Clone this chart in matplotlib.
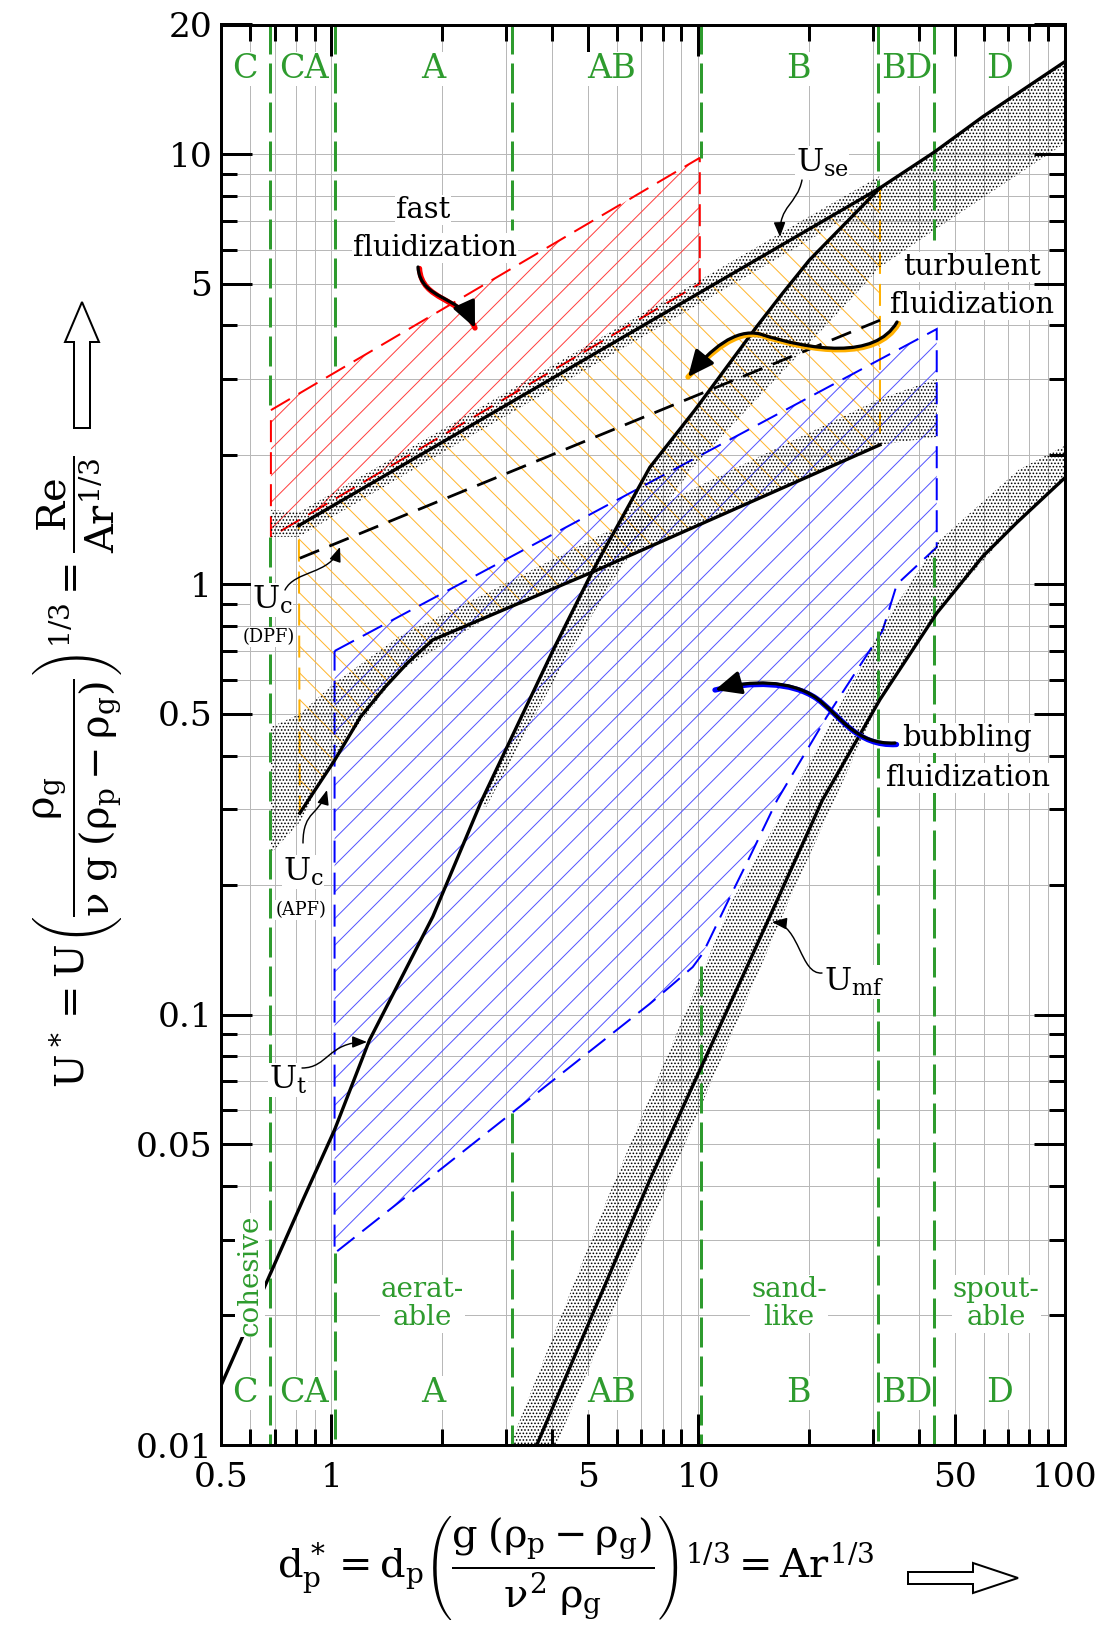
import numpy as np
import matplotlib
matplotlib.use("Agg")
import matplotlib.pyplot as plt
from matplotlib.patches import Polygon, FancyArrowPatch
from matplotlib.path import Path
from matplotlib.ticker import NullFormatter

plt.rcParams['font.family'] = ['DejaVu Serif']
plt.rcParams['mathtext.fontset'] = 'custom'
plt.rcParams['mathtext.rm'] = 'DejaVu Serif'
plt.rcParams['mathtext.it'] = 'DejaVu Serif'
plt.rcParams['mathtext.bf'] = 'DejaVu Serif:bold'
plt.rcParams['hatch.linewidth'] = 0.9

W, H, DPI = 1113, 1636, 80
GREEN = '#2e9b2e'

# regime boundaries on d*
zone_edges = [0.68, 1.02, 3.1, 10.2, 31.0, 44.0]
# part of each boundary line that is not drawn (y top, y bottom)
zone_edge_gaps = [(2.54, 1.29), (3.15, 0.028), (6.65, 0.059),
                  (9.8, 0.13), (8.3, 0.78), (6.3, 1.16)]
zone_names = ['C', 'CA', 'A', 'AB', 'B', 'BD', 'D']
zone_name_x = [0.58, 0.84, 1.89, 5.81, 18.7, 37.0, 66.4]
powder_names = ['aerat-\nable', 'sand-\nlike', 'spout-\nable']
powder_x = [1.77, 17.7, 65.0]

# terminal velocity U_t
ut_x = [0.503, 0.836, 1.02, 1.27, 1.89, 2.57, 4.02, 5.17, 7.38, 9.79,
        14.4, 17.0, 20.1, 31.3, 44.0, 59.6, 100]
ut_y = [0.0139, 0.0371, 0.054, 0.0873, 0.169, 0.315, 0.703, 1.08, 1.87, 2.54,
        3.96, 4.75, 5.67, 8.34, 10.1, 12.2, 16.4]
# minimum fluidization U_mf
umf_x = [3.63, 7.38, 14.5, 21.8, 31.3, 44.7, 59.6, 73.8, 100]
umf_y = [0.01, 0.0413, 0.146, 0.315, 0.54, 0.857, 1.16, 1.39, 1.77]
# U_se
use_x = [0.815, 31.3]
use_y = [1.37, 8.34]
# U_c (DPF), dashed
ucd_x = [0.82, 31.3]
ucd_y = [1.15, 4.11]
# U_c (APF)
uca_x = [0.82, 1.02, 1.20, 1.40, 1.61, 1.89, 5.17, 31.3]
uca_y = [0.294, 0.39, 0.492, 0.577, 0.656, 0.743, 1.07, 2.11]

# regime areas
fast_x = [0.684, 10.1, 10.1, 0.684]
fast_y = [2.54, 9.8, 5.0, 1.29]
bub_x = [1.02, 44.7, 44.7, 34.8, 31.8, 27.1, 22.4, 16.4, 13.8, 12.2,
         10.3, 9.66, 8.36, 7.38, 1.02]
bub_y = [0.70, 3.92, 1.22, 1.0, 0.78, 0.632, 0.492, 0.315, 0.232, 0.1875,
         0.139, 0.129, 0.116, 0.106, 0.0279]

# scatter bands of the correlations
use_band_x = [0.684, 0.815, 2, 5, 10, 20, 31.3]
use_band_hi = [1.49, 1.47, 2.29, 3.6, 5.07, 7.15, 8.9]
use_band_lo = [1.29, 1.29, 2.02, 3.17, 4.47, 6.3, 7.9]
uca_band_x = [0.684, 0.82, 1.02, 1.54, 2.88, 6.93, 15, 31.3, 44.7]
uca_band_hi = [0.466, 0.50, 0.59, 0.76, 0.99, 1.45, 2.0, 2.7, 3.0]
uca_band_lo = [0.237, 0.28, 0.40, 0.63, 0.87, 1.2, 1.6, 2.11, 2.2]
ut_band_lo_x = [2.62, 4.3, 6.1, 9.66, 27, 31.3, 44, 100]
ut_band_lo_y = [0.30, 0.66, 1.08, 1.87, 4.75, 5.46, 6.65, 10.6]
umf_band_hi_x = [3.07, 5.63, 12.4, 17.7, 31.8, 44.7, 75, 100]
umf_band_hi_y = [0.01, 0.037, 0.1845, 0.315, 0.80, 1.25, 1.85, 2.1]
umf_band_lo_x = [4.1, 7.9, 17.7, 23.5, 31.3, 44.7, 73.8, 100]
umf_band_lo_y = [0.01, 0.037, 0.1845, 0.315, 0.54, 0.857, 1.39, 1.77]

x_major = [0.5, 1, 5, 10, 50, 100]
x_major_lbl = ['0.5', '1', '5', '10', '50', '100']
x_minor = [0.6, 0.7, 0.8, 0.9, 2, 3, 4, 6, 7, 8, 9, 20, 30, 40, 60, 70, 80, 90]
y_major = [0.01, 0.05, 0.1, 0.5, 1, 5, 10, 20]
y_major_lbl = ['0.01', '0.05', '0.1', '0.5', '1', '5', '10', '20']
y_minor = [0.02, 0.03, 0.04, 0.06, 0.07, 0.08, 0.09, 0.2, 0.3, 0.4, 0.6, 0.7,
           0.8, 0.9, 2, 3, 4, 6, 7, 8, 9]


def fpt(px, py):
    # pixel position -> figure fraction
    return (px / W, 1 - py / H)


fig = plt.figure(figsize=(W / DPI, H / DPI), dpi=DPI)
ax = fig.add_axes([221 / W, 1 - 1445 / H, (1065 - 221) / W, (1445 - 24.5) / H])
ax.set_xscale('log')
ax.set_yscale('log')
ax.set_xlim(0.5, 100)
ax.set_ylim(0.01, 20)

ax.set_xticks(x_major, x_major_lbl)
ax.set_xticks(x_minor, minor=True)
ax.set_yticks(y_major, y_major_lbl)
ax.set_yticks(y_minor, minor=True)
ax.xaxis.set_minor_formatter(NullFormatter())
ax.yaxis.set_minor_formatter(NullFormatter())
ax.tick_params(which='both', direction='in', top=True, right=True,
               width=2.7, labelsize=31)
ax.tick_params(which='major', length=28)
ax.tick_params(which='minor', length=14)
ax.tick_params(axis='x', pad=15)
ax.tick_params(axis='y', pad=8)
for s in ax.spines.values():
    s.set_linewidth(2.7)
ax.set_axisbelow(True)
ax.grid(which='both', color='#b8b8b8', lw=0.9)

# hatched regime areas
def hatched(xs, ys, hcolor, lcolor, hatch):
    pts = list(zip(xs, ys))
    ax.add_patch(Polygon(pts, closed=True, fc='none', ec=hcolor, lw=0,
                         hatch=hatch, zorder=1))
    ax.add_patch(Polygon(pts, closed=True, fill=False, ec=lcolor, lw=1.8,
                         ls=(0, (11, 5)), zorder=1.5))

hatched(fast_x, fast_y, '#ff4040', '#ff0000', '/')
turb_x = use_x + uca_x[::-1]
turb_y = use_y + uca_y[::-1]
hatched(turb_x, turb_y, '#ffb62e', '#ffb000', '\\')
hatched(bub_x, bub_y, '#5555ff', '#0000ff', '/')

# dotted scatter bands
def band(xh, yh, xl, yl):
    pts = list(zip(xh, yh)) + list(zip(xl, yl))[::-1]
    ax.add_patch(Polygon(pts, closed=True, fc='none', ec='black', lw=0,
                         hatch='....', zorder=2))

band(use_band_x, use_band_hi, use_band_x, use_band_lo)
band(uca_band_x, uca_band_hi, uca_band_x, uca_band_lo)
band(ut_x[5:], ut_y[5:], ut_band_lo_x, ut_band_lo_y)
band(umf_band_hi_x, umf_band_hi_y, umf_band_lo_x, umf_band_lo_y)

# regime boundaries
for xe, (gtop, gbot) in zip(zone_edges, zone_edge_gaps):
    ax.plot([xe, xe], [20, gtop], color=GREEN, lw=2.7, ls=(0, (10, 3)), zorder=2.5)
    ax.plot([xe, xe], [gbot, 0.01], color=GREEN, lw=2.7, ls=(0, (10, 3)), zorder=2.5)

# velocity curves
ax.plot(ut_x, ut_y, color='black', lw=3, zorder=3)
ax.plot(umf_x, umf_y, color='black', lw=3, zorder=3)
ax.plot(use_x, use_y, color='black', lw=3, zorder=3)
ax.plot(uca_x, uca_y, color='black', lw=3, zorder=3)
ax.plot(ucd_x, ucd_y, color='black', lw=2.5, ls=(0, (7.5, 4)), zorder=3)

wbox = dict(fc='white', ec='none', pad=1)
xt = ax.get_xaxis_transform()
for name, xn in zip(zone_names, zone_name_x):
    for yf in (0.969, 0.0366):
        ax.text(xn, yf, name, transform=xt, ha='center', va='center',
                color=GREEN, fontsize=30, bbox=wbox, zorder=5)
for name, xn in zip(powder_names, powder_x):
    ax.text(xn, 0.0993, name, transform=xt, ha='center', va='center',
            color=GREEN, fontsize=25, linespacing=1.05, bbox=wbox, zorder=5)
ax.text(0.60, 0.1197, 'cohesive', transform=xt, rotation=90, ha='center',
        va='center', color=GREEN, fontsize=25, bbox=wbox, zorder=5)

# black annotations (pixel layout)
def label(px, py, s, size):
    fig.text(*fpt(px, py), s, ha='center', va='center', fontsize=size,
             bbox=wbox, zorder=8)

label(423, 210, 'fast', 26)
label(435, 248, 'fluidization', 26)
label(972, 267, 'turbulent', 26)
label(972, 305, 'fluidization', 26)
label(967, 738, 'bubbling', 26)
label(968, 778, 'fluidization', 26)
label(822, 163, r'$U_{se}$', 29)
label(272, 600, r'$U_c$', 29)
label(269, 637, '(DPF)', 16)
label(303, 872, r'$U_c$', 29)
label(301, 910, '(APF)', 16)
label(288, 1080, r'$U_t$', 29)
label(854, 982, r'$U_{mf}$', 29)


def curve(points, lw, head, color='black', zorder=9):
    verts = [fpt(px, py) for px, py in points]
    codes = [Path.MOVETO] + [Path.CURVE4] * (len(verts) - 1)
    fig.add_artist(FancyArrowPatch(path=Path(verts, codes), arrowstyle=head,
                                   mutation_scale=20, color=color, lw=lw,
                                   transform=fig.transFigure, zorder=zorder))


thick = '-|>,head_length=1.0,head_width=0.45'
thin = '-|>,head_length=0.55,head_width=0.22'
fast_arrow = [(418, 267), (420, 300), (460, 295), (475, 328)]
turb_arrow = [(897, 322), (875, 360), (810, 350), (760, 334),
              (735, 328), (710, 350), (688, 377)]
bub_arrow = [(895, 743), (855, 745), (840, 715), (815, 697),
             (790, 680), (750, 680), (715, 690)]
for pts, col in ((fast_arrow, '#ff0000'), (turb_arrow, '#ffb000'),
                 (bub_arrow, '#0000ff')):
    curve([(x + 1.5, y + 1.5) for x, y in pts[:-1]] + [pts[-1]], 4.8, '-', col, 8.5)
    curve(pts, 2.9, thick)

curve([(802, 180), (797, 205), (779, 205), (780, 237)], 1.3, thin)
curve([(285, 590), (295, 570), (330, 575), (340, 547)], 1.3, thin)
curve([(303, 843), (303, 810), (320, 815), (327, 790)], 1.3, thin)
curve([(302, 1068), (328, 1068), (328, 1042), (367, 1042)], 1.3, thin)
curve([(822, 973), (800, 975), (800, 925), (772, 922)], 1.3, thin)

# axis titles
ylab = (r'$U^* = U\left(\dfrac{\rho_g}{\nu\;g\;(\rho_p - \rho_g)}\right)^{1/3}'
        r' = \dfrac{Re}{Ar^{1/3}}$')
fig.text(*fpt(78, 772), ylab, rotation=90, ha='center', va='center', fontsize=36)
xlab = (r'$d_p^* = d_p\left(\dfrac{g\;(\rho_p - \rho_g)}{\nu^2\;\rho_g}\right)^{1/3}'
        r' = Ar^{1/3}$')
fig.text(*fpt(576, 1568), xlab, ha='center', va='center', fontsize=36)

up = [(74, 428), (74, 342), (65, 342), (82, 302), (99, 342), (90, 342), (90, 428)]
right = [(908, 1572), (973, 1572), (973, 1563), (1018, 1578), (973, 1593),
         (973, 1584), (908, 1584)]
for arr in (up, right):
    fig.add_artist(Polygon([fpt(*p) for p in arr], closed=True, fc='white',
                           ec='black', lw=1.8, transform=fig.transFigure))

fig.savefig('out.png', dpi=DPI)
